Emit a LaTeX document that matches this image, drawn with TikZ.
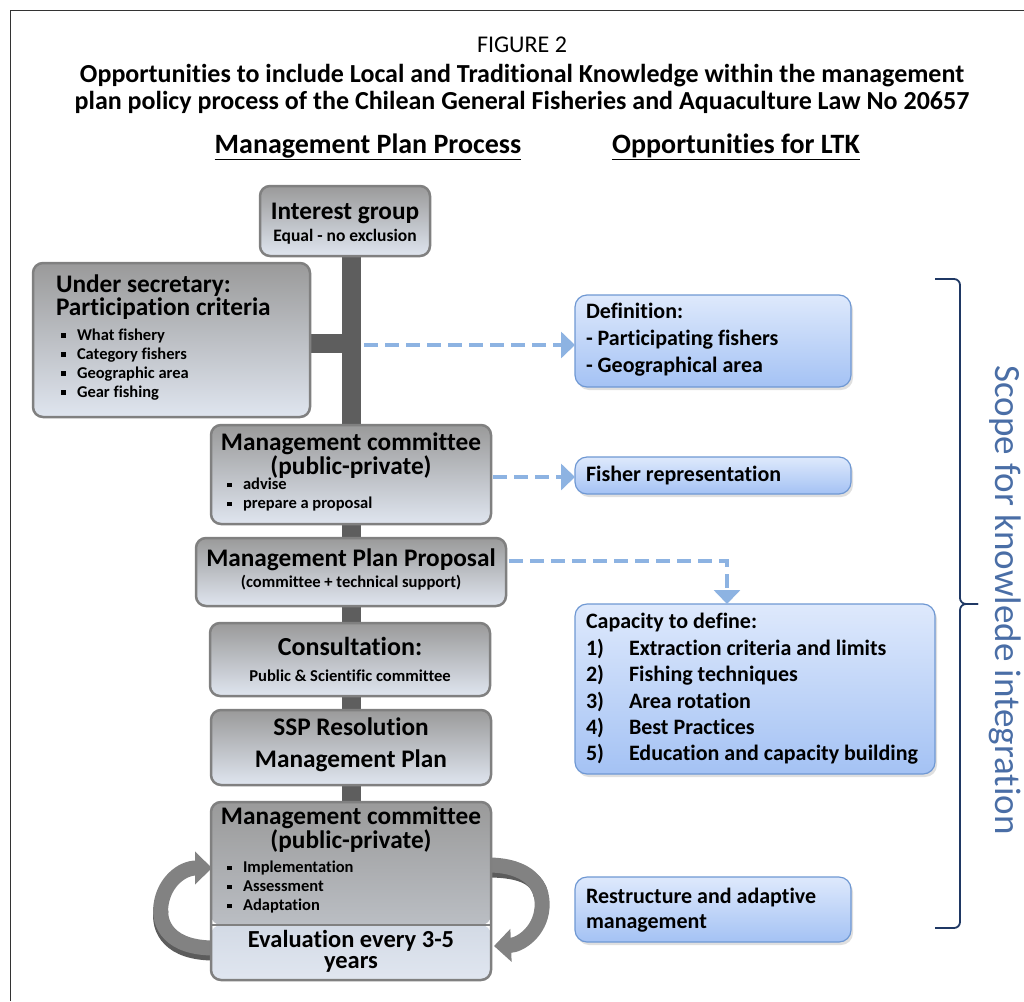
\documentclass[tikz,border=0pt]{standalone}
\usepackage{fontspec}
\setmainfont{Carlito}[Ligatures={NoCommon}]
\usetikzlibrary{arrows.meta,shadows,calc}
\definecolor{spinec}{HTML}{5E5E5E}
\definecolor{boxline}{HTML}{808080}
\definecolor{gtop}{HTML}{9A9A9A}
\definecolor{gbot}{HTML}{DFE5EF}
\definecolor{gmid}{HTML}{C9CED6}
\definecolor{etop}{HTML}{D3DAE5}
\definecolor{ebot}{HTML}{E0E6F0}
\definecolor{btop}{HTML}{DEE9FC}
\definecolor{bbot}{HTML}{A4C2F4}
\definecolor{bline}{HTML}{6F98D3}
\definecolor{dash}{HTML}{8DB3E2}
\definecolor{arrg}{HTML}{828282}
\definecolor{arrd}{HTML}{5C5C5C}
\definecolor{bracec}{HTML}{1F3864}
\definecolor{scopec}{HTML}{4A6EA6}
\newcommand{\myfs}[2]{\fontsize{#1}{#2}\selectfont}
\newcommand{\mybul}{\makebox[16pt][l]{\rule[0.3ex]{4.5pt}{4.5pt}}}
\tikzset{
  graybox/.style={draw=boxline, line width=2.5pt, rounded corners=10pt, top color=gtop, bottom color=gbot, inner sep=0pt, outer sep=0pt},
  bluebox/.style={draw=bline, line width=1.2pt, rounded corners=12pt, top color=btop, bottom color=bbot, inner sep=0pt, outer sep=0pt,
     drop shadow={opacity=0.25, shadow xshift=2pt, shadow yshift=-3pt}},
  txt/.style={inner sep=0pt, outer sep=0pt, align=center},
  ltxt/.style={inner sep=0pt, outer sep=0pt, align=left, anchor=west},
  dasharrow/.style={draw=dash, line width=4.5pt, dash pattern=on 14pt off 7pt, -{Triangle[width=26pt,length=14pt]}},
  looparrow/.style={draw=arrg, line width=15pt, -{Triangle[width=32pt,length=17pt]}},
  loopshade/.style={draw=arrd, line width=15pt},
}
\begin{document}
\begin{tikzpicture}[x=1pt, y=-1pt, font=\bfseries]
\useasboundingbox (0,0) rectangle (1024,1001);
\draw[line width=1pt, black!80] (10,1001) -- (10,10) -- (1024,10);

% titles
\node[txt, font=\mdseries\myfs{24}{28}] (fig) at (522,45) {FIGURE 2};
\node[txt, font=\bfseries\myfs{26}{27}] (title) at (522,89) {Opportunities to include Local and Traditional Knowledge within the management\\plan policy process of the Chilean General Fisheries and Aquaculture Law No 20657};
\node[txt, font=\bfseries\myfs{28}{32}] (h1) at (368,147) {\underline{Management Plan Process}};
\node[txt, font=\bfseries\myfs{28}{32}] (h2) at (736,147) {\underline{Opportunities for LTK}};

% spine
\fill[spinec] (342,250) rectangle (361,805);
\fill[spinec] (305,334) rectangle (345,353);

% gray boxes
\node[graybox, minimum width=170pt, minimum height=70pt] (ig) at (345,221) {};
\node[txt, font=\bfseries\myfs{25.3}{28}] (igt) at (345,213) {Interest group};
\node[txt, font=\bfseries\myfs{17.5}{20}] (igs) at (345,237) {Equal - no exclusion};

\node[graybox, minimum width=277pt, minimum height=154pt] (us) at (171.5,340) {};
\node[ltxt, font=\bfseries\myfs{25.3}{19}] (ust) at (56,297) {Under secretary:\\Participation criteria};
\node[ltxt, font=\bfseries\myfs{16.5}{19}] (usb) at (61,364.5) {\mybul What fishery\\\mybul Category fishers\\\mybul Geographic area\\\mybul Gear fishing};

\node[graybox, minimum width=280pt, minimum height=99pt] (mc1) at (351,474.5) {};
\node[txt, font=\bfseries\myfs{25.3}{21}] (mc1t) at (351,456) {Management committee\\(public-private)};
\node[ltxt, font=\bfseries\myfs{16.5}{19}] (mc1b) at (227,494.5) {\mybul advise\\\mybul prepare a proposal};

\node[graybox, minimum width=310pt, minimum height=68pt] (mpp) at (351,572) {};
\node[txt, font=\bfseries\myfs{25.3}{28}] (mppt) at (351,560) {Management Plan Proposal};
\node[txt, font=\bfseries\myfs{16.6}{19}] (mpps) at (351,583) {(committee + technical support)};

\node[graybox, minimum width=280pt, minimum height=73pt] (con) at (350,659.5) {};
\node[txt, font=\bfseries\myfs{26}{28}] (cont) at (350,646) {Consultation:};
\node[txt, font=\bfseries\myfs{16.6}{19}] (cons) at (350,676) {Public \& Scientific committee};

\node[graybox, minimum width=280pt, minimum height=75pt] (ssp) at (351,747.5) {};
\node[txt, font=\bfseries\myfs{25.3}{32}] (sspt) at (351,745) {SSP Resolution\\Management Plan};

% loop arrows (behind the box)
\coordinate (la) at (214,948);
\coordinate (lb) at (212,868);
\coordinate (ra) at (488,865);
\coordinate (rb) at (494,946);
\draw[loopshade] ([yshift=-5pt]la) .. controls (170,953) and (158,930) .. (161,910);
\draw[looparrow] (la) .. controls (170,948) and (158,925) .. (161,905) .. controls (164,882) and (182,868) .. (lb);
\draw[loopshade] ([yshift=-5pt]ra) .. controls (525,870) and (538,880) .. (541,895);
\draw[looparrow] (ra) .. controls (528,865) and (544,885) .. (542,908) .. controls (540,932) and (520,945) .. (rb);

\node[draw=boxline, line width=2.5pt, rounded corners=10pt, minimum width=280pt, minimum height=178pt, inner sep=0pt, outer sep=0pt,
  path picture={
    \shade[top color=gtop, bottom color=gmid] (path picture bounding box.north west) rectangle ([yshift=55pt]path picture bounding box.south east);
    \shade[top color=etop, bottom color=ebot] ([yshift=55pt]path picture bounding box.south west) rectangle (path picture bounding box.south east);
    \draw[boxline, line width=2.5pt] ([yshift=55pt]path picture bounding box.south west) -- ([yshift=55pt]path picture bounding box.south east);
  }] (mc2) at (351,891) {};
\node[txt, font=\bfseries\myfs{25.3}{20}] (mc2t) at (351,830) {Management committee\\(public-private)};
\node[ltxt, font=\bfseries\myfs{16.5}{19}] (mc2b) at (227,887) {\mybul Implementation\\\mybul Assessment\\\mybul Adaptation};
\node[txt, font=\bfseries\myfs{24.5}{21}] (ev) at (351,951) {Evaluation every 3-5\\years};

% blue boxes
\node[bluebox, minimum width=276pt, minimum height=92pt] (def) at (713,341) {};
\node[ltxt, font=\bfseries\myfs{22}{27}] (deft) at (586,340) {Definition:\\- Participating fishers\\- Geographical area};

\node[bluebox, minimum width=276pt, minimum height=37pt] (fr) at (713,475.5) {};
\node[ltxt, font=\bfseries\myfs{22}{25}] (frt) at (586,476) {Fisher representation};

\node[bluebox, minimum width=360pt, minimum height=170pt] (cap) at (755,689) {};
\node[ltxt, font=\bfseries\myfs{22}{26.4}] (capt) at (586,689) {Capacity to define:\\
\makebox[43pt][l]{1)}Extraction criteria and limits\\
\makebox[43pt][l]{2)}Fishing techniques\\
\makebox[43pt][l]{3)}Area rotation\\
\makebox[43pt][l]{4)}Best Practices\\
\makebox[43pt][l]{5)}Education and capacity building};

\node[bluebox, minimum width=276pt, minimum height=65pt] (ra2) at (713,909.5) {};
\node[ltxt, font=\bfseries\myfs{22}{25}] (rat) at (586,910.5) {Restructure and adaptive\\management};

% dashed connectors
\coordinate (d1) at (364,345);
\draw[dasharrow] (d1) -- (d1 -| def.west);
\coordinate (d2) at (493,477);
\draw[dasharrow] (d2) -- (d2 -| fr.west);
\coordinate (d3) at (509,561);
\draw[dasharrow] (d3) -| ([xshift=-28pt]cap.north);

% brace
\draw[bracec, line width=1.8pt, rounded corners=6pt] (935,279) -- (960,279) -- (960,604) -- (978,604);
\draw[bracec, line width=1.8pt, rounded corners=6pt] (978,604) -- (960,604) -- (960,928) -- (935,928);
\node[txt, font=\mdseries\myfs{37}{40}, text=scopec, rotate=-90] (scope) at (1005,600) {Scope for knowlede integration};
\end{tikzpicture}
\end{document}
